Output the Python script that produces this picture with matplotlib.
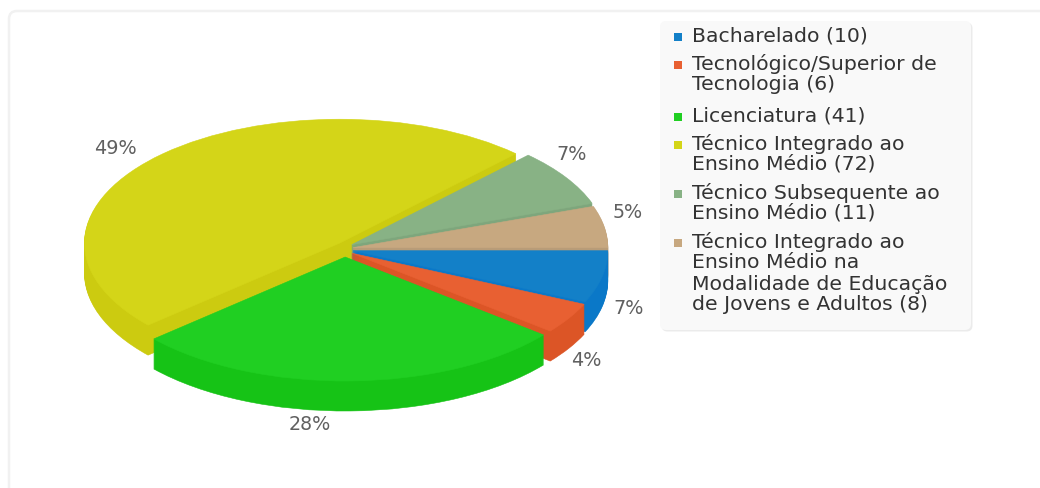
import numpy as np
import matplotlib
matplotlib.use("Agg")
import matplotlib.pyplot as plt
from matplotlib.patches import FancyBboxPatch

plt.rcParams['font.family'] = ['DejaVu Sans']

# ---- data ----
counts = [10, 6, 41, 72, 11, 8]
legend_lines = [
    ["Bacharelado (10)"],
    ["Tecnológico/Superior de", "Tecnologia (6)"],
    ["Licenciatura (41)"],
    ["Técnico Integrado ao", "Ensino Médio (72)"],
    ["Técnico Subsequente ao", "Ensino Médio (11)"],
    ["Técnico Integrado ao", "Ensino Médio na", "Modalidade de Educação", "de Jovens e Adultos (8)"],
]
top_colors = ["#1380C8", "#E86032", "#20CF22", "#D4D518", "#88B285", "#C7A880"]
side_colors = ["#0A78C8", "#DC5526", "#16C316", "#CCCB10", "#7EA67C", "#B89C78"]

# ---- layout (pixels) ----
W, H = 1040, 489
CX, CY, RX, RY, DEPTH, EXPLODE = 345, 250, 255, 124, 30, 8
label_xy = [(629, 308), (586, 361), (310, 424), (115, 149), (572, 155), (628, 212)]
legend_line_y = [[36], [64, 84], [116], [144, 164], [193, 213], [242, 262, 284, 305]]

fig = plt.figure(figsize=(W / 100, H / 100), dpi=100, facecolor="white")

bg = fig.add_axes([0, 0, 1, 1], zorder=0)
bg.set_xlim(0, W); bg.set_ylim(H, 0); bg.axis("off")
bg.add_patch(FancyBboxPatch((9, 12), 1060, 520, boxstyle="round,pad=0,rounding_size=8",
                            fc="white", ec="#F1F1F1", lw=1.8))

ax = fig.add_axes([0, 0, 1, 1], zorder=1)
ax.patch.set_alpha(0)


def draw(colors, depth):
    wedges, _ = ax.pie(counts, colors=colors, startangle=0, counterclock=False, radius=1,
                       wedgeprops=dict(lw=0.4))
    for w in wedges:
        w.set_edgecolor(w.get_facecolor())
        mid = np.deg2rad((w.theta1 + w.theta2) / 2)
        w.set_center((EXPLODE * np.cos(mid) / RX, (EXPLODE * np.sin(mid) - depth) / RY))


for d in range(DEPTH, 0, -1):
    draw(side_colors, d)
draw(top_colors, 0)
ax.set_aspect("auto")
ax.set_xlim((0 - CX) / RX, (W - CX) / RX)
ax.set_ylim((CY - H) / RY, CY / RY)
ax.axis("off")

ov = fig.add_axes([0, 0, 1, 1], zorder=2)
ov.set_xlim(0, W); ov.set_ylim(H, 0); ov.axis("off")

total = sum(counts)
for c, (x, y) in zip(counts, label_xy):
    ov.text(x, y, f"{round(100 * c / total)}%", ha="center", va="center",
            fontsize=13.8, color="#606060")

ov.add_patch(FancyBboxPatch((661.5, 23.5), 311, 309, boxstyle="round,pad=0,rounding_size=6",
                            fc="#E6E6E6", ec="none", alpha=0.8))
ov.add_patch(FancyBboxPatch((660, 22), 311, 309, boxstyle="round,pad=0,rounding_size=6",
                            fc="#F9F9F9", ec="none"))
for lines, ys, col in zip(legend_lines, legend_line_y, top_colors):
    ov.scatter([678], [ys[0] + 2], marker="s", s=37, color=col, linewidths=0)
    for line, y in zip(lines, ys):
        ov.text(692, y, line, ha="left", va="center", fontsize=14.7, color="#333333")

fig.savefig("out.png", dpi=100)
